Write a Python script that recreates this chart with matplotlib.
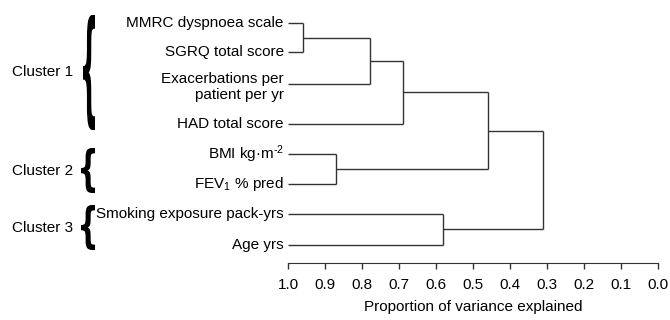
"""
Dendrogram of COPD variables (proportion of variance explained), three clusters.

    python plot.py   # -> out.png
"""

import matplotlib
matplotlib.use("Agg")
import matplotlib.pyplot as plt
from matplotlib.textpath import TextPath
from matplotlib.patches import PathPatch
from matplotlib.font_manager import FontProperties
from matplotlib.transforms import Affine2D

plt.rcParams["font.family"] = ["Liberation Sans", "DejaVu Sans"]
plt.rcParams["mathtext.fontset"] = "custom"
plt.rcParams["mathtext.rm"] = "Liberation Sans"
plt.rcParams["mathtext.it"] = "Liberation Sans:italic"

# leaves, top -> bottom
LABELS = ["MMRC dyspnoea scale", "SGRQ total score", "Exacerbations per\npatient per yr",
          "HAD total score", r"BMI kg·m$^{\text{-}2}$", "FEV$_1$ % pred",
          "Smoking exposure pack-yrs", "Age yrs"]
# merges (child a, child b, proportion of variance explained); nodes 8.. are the merges
MERGE_A = [0, 8, 9, 4, 10, 6, 12]
MERGE_B = [1, 2, 3, 5, 11, 7, 13]
MERGE_H = [0.96, 0.78, 0.69, 0.87, 0.46, 0.58, 0.31]
CLUSTERS = ["Cluster 1", "Cluster 2", "Cluster 3"]
TICKS = [1.0, 0.9, 0.8, 0.7, 0.6, 0.5, 0.4, 0.3, 0.2, 0.1, 0.0]

# layout: leaf rows (extra gap after the two-line label), brace boxes in pixels
LEAF_Y = [0, 0.96, 2.0, 3.32, 4.31, 5.31, 6.28, 7.33]
BRACES = [(83, 95, 15, 130, 72), (81, 95, 148, 193, 171), (81, 95, 205, 250, 228)]
W, H = 670, 320
LINE = "#333333"
FS = 11

fig = plt.figure(figsize=(W / 100, H / 100), dpi=100)
ax = fig.add_axes([288.3 / W, 1 - 263 / H, 369.4 / W, 258 / H])
ax.set_xlim(1.0, 0.0)
ax.set_ylim(7.91, -0.60)

xs = [1.0] * len(LABELS)
ys = list(LEAF_Y)
for a, b, h in zip(MERGE_A, MERGE_B, MERGE_H):
    for c in (a, b):
        ax.plot([xs[c], h], [ys[c], ys[c]], color=LINE, lw=1.0, solid_capstyle="butt")
    ax.plot([h, h], [ys[a], ys[b]], color=LINE, lw=1.0, solid_capstyle="butt")
    xs.append(h)
    ys.append((ys[a] + ys[b]) / 2)

for lab, y in zip(LABELS, LEAF_Y):
    if "\n" in lab:
        ax.text(1.012, y - 0.38, lab, ha="right", va="top", fontsize=FS, linespacing=1.12)
    else:
        ax.text(1.012, y, lab, ha="right", va="center", fontsize=FS)

for s in ("top", "right", "left"):
    ax.spines[s].set_visible(False)
ax.spines["bottom"].set_color(LINE)
ax.set_yticks([])
ax.set_xticks(TICKS)
ax.set_xticklabels([f"{t:.1f}" for t in TICKS])
ax.tick_params(axis="x", direction="out", length=4.5, width=1.0, color=LINE, pad=6, labelsize=FS)
ax.set_xlabel("Proportion of variance explained", fontsize=FS, labelpad=6)

# curly braces: a bold "{" glyph stretched into each box
brace = TextPath((0, 0), "{", size=1, prop=FontProperties(family="DejaVu Sans", weight="bold"))
ext = brace.get_extents()
for name, (x0, x1, y0, y1, yc) in zip(CLUSTERS, BRACES):
    t = (Affine2D().translate(-ext.x0, -ext.y0)
         .scale((x1 - x0) / ext.width / W, (y1 - y0) / ext.height / H)
         .translate(x0 / W, 1 - y1 / H) + fig.transFigure)
    fig.patches.append(PathPatch(brace, transform=t, facecolor="black", edgecolor="none"))
    fig.text(73 / W, 1 - yc / H, name, ha="right", va="center", fontsize=FS)

fig.savefig("out.png", dpi=100)
